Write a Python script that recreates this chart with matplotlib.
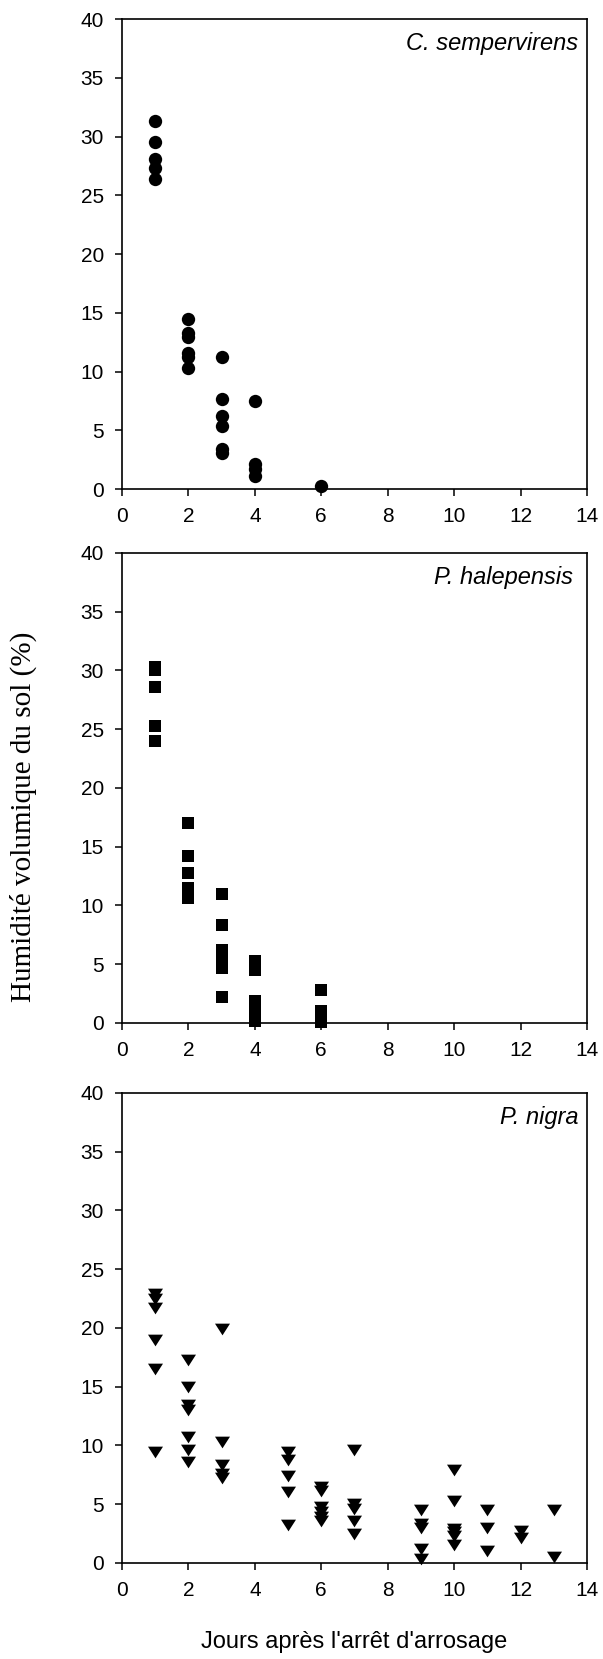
import matplotlib
matplotlib.use("Agg")
import matplotlib.pyplot as plt

# jours apres l'arret d'arrosage / humidite volumique du sol (%)
cs_days = [1, 1, 1, 1, 1,
           2, 2, 2, 2, 2, 2,
           3, 3, 3, 3, 3, 3,
           4, 4, 4, 4,
           6]
cs_hum = [31.3, 29.5, 28.1, 27.3, 26.4,
          14.5, 13.3, 12.9, 11.6, 11.2, 10.3,
          11.2, 7.7, 6.2, 5.4, 3.4, 3.1,
          7.5, 2.1, 1.7, 1.1,
          0.3]

ph_days = [1, 1, 1, 1, 1,
           2, 2, 2, 2, 2, 2,
           3, 3, 3, 3, 3, 3,
           4, 4, 4, 4, 4,
           6, 6, 6, 6]
ph_hum = [30.3, 30.0, 28.6, 25.3, 24.0,
          17.0, 14.2, 12.8, 11.5, 11.0, 10.6,
          11.0, 8.3, 6.2, 5.4, 4.7, 2.2,
          5.3, 4.5, 1.9, 1.0, 0.2,
          2.8, 1.0, 0.5, 0.1]

pn_days = [1, 1, 1, 1, 1, 1,
           2, 2, 2, 2, 2, 2, 2,
           3, 3, 3, 3, 3,
           5, 5, 5, 5, 5,
           6, 6, 6, 6, 6, 6,
           7, 7, 7, 7, 7,
           9, 9, 9, 9, 9,
           10, 10, 10, 10, 10, 10,
           11, 11, 11,
           12, 12,
           13, 13]
pn_hum = [22.9, 22.5, 21.7, 19.0, 16.5, 9.4,
          17.3, 15.0, 13.4, 13.0, 10.7, 9.6, 8.6,
          19.9, 10.3, 8.3, 7.6, 7.2,
          9.4, 8.8, 7.4, 6.0, 3.2,
          6.5, 6.1, 4.8, 4.3, 3.9, 3.6,
          9.6, 5.0, 4.6, 3.6, 2.5,
          4.5, 3.3, 3.0, 1.2, 0.3,
          7.9, 5.3, 2.9, 2.6, 2.3, 1.5,
          4.5, 3.0, 1.0,
          2.7, 2.1,
          4.5, 0.5]

species = ["C. sempervirens", "P. halepensis", "P. nigra"]
xticks = [0, 2, 4, 6, 8, 10, 12, 14]
yticks = [0, 5, 10, 15, 20, 25, 30, 35, 40]

sans = ["Liberation Sans", "DejaVu Sans"]
plt.rcParams["font.family"] = sans

fig = plt.figure(figsize=(6.03, 16.59), dpi=100)

tri = [(-1, 0.78), (1, 0.78), (0, -0.78)]
panels = [
    (cs_days, cs_hum, "o", 9.6, 0.7052, 0.981),
    (ph_days, ph_hum, "s", 8.6, 0.3834, 0.971),
    (pn_days, pn_hum, tri, 10.8, 0.0579, 0.981),
]

for i, (d, h, m, ms, bottom, lx) in enumerate(panels):
    ax = fig.add_axes([0.2023, bottom, 0.7711, 0.2833])
    ax.plot(d, h, linestyle="none", marker=m, markersize=ms,
            color="black", markeredgewidth=0, clip_on=False)
    ax.set_xlim(0, 14)
    ax.set_ylim(0, 40)
    ax.set_xticks(xticks)
    ax.set_yticks(yticks)
    ax.tick_params(direction="out", length=5, width=1.1, labelsize=15, pad=8)
    for s in ax.spines.values():
        s.set_linewidth(1.2)
    ax.text(lx, 0.948, species[i], transform=ax.transAxes, ha="right",
            va="center", fontsize=17, style="italic")

fig.text(23 / 603, 1 - 817 / 1659, "Humidité volumique du sol (%)",
         rotation=90, ha="center", va="center", fontsize=21,
         family=["Liberation Serif", "DejaVu Serif"])
fig.text(354.5 / 603, 1 - 1642 / 1659, "Jours après l'arrêt d'arrosage",
         ha="center", va="center", fontsize=17)

fig.savefig("out.png", dpi=100)
